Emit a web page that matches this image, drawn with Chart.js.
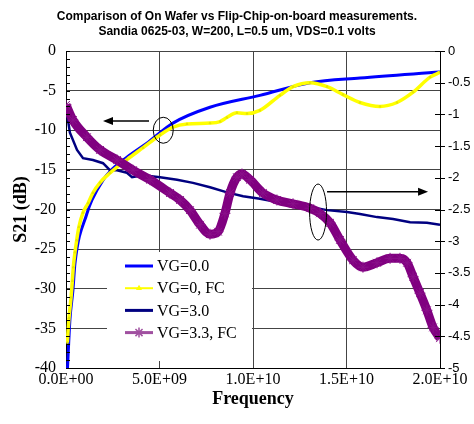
<!DOCTYPE html>
<html>
<head>
<meta charset="utf-8">
<script src="https://cdn.jsdelivr.net/npm/chart.js@4.4.1/dist/chart.umd.min.js"></script>
<style>
  body { margin: 0; background: #fff; }
  #wrap { width: 474px; height: 424px; }
</style>
</head>
<body>
<div id="wrap"><canvas id="s21Chart" width="474" height="424"></canvas></div>
<script>
// data (frequency in Hz)
const titleLines = ['Comparison of On Wafer vs Flip-Chip-on-board measurements.', 'Sandia 0625-03, W=200, L=0.5 um, VDS=0.1 volts'];
const seriesNames = ['VG=0.0', 'VG=0, FC', 'VG=3.0', 'VG=3.3, FC'];
const freqTicks = [0, 5e9, 1e10, 1.5e10, 2e10];

// VG=0.0 (left axis, dB)
const vg00Freq = [0.08e9, 0.21e9, 0.37e9, 0.48e9, 1.12e9, 1.39e9, 1.98e9, 2.35e9, 3.26e9, 4.4e9, 5.72e9, 7.7e9, 10.37e9, 13.05e9, 15.72e9, 20e9];
const vg00Db   = [-40, -33.9, -30.2, -26.8, -20.5, -18.8, -16.3, -15.2, -13.4, -11.5, -9.1, -7.1, -5.6, -4.0, -3.4, -2.65];

// VG=0, FC (left axis, dB)
const vg0fcFreq = [0.07e9, 0.16e9, 0.27e9, 0.34e9, 0.39e9, 0.48e9, 0.57e9, 0.69e9, 0.91e9, 1.18e9, 1.44e9, 1.82e9, 2.35e9, 3.26e9, 4.12e9, 5.03e9, 5.72e9, 6.47e9, 7.7e9, 8.24e9, 8.6e9, 9.14e9, 9.68e9, 10.37e9, 11.44e9, 12.14e9, 13.05e9, 13.96e9, 14.81e9, 15.72e9, 16.79e9, 17.7e9, 18.56e9, 19.47e9, 20e9];
const vg0fcDb   = [-36.8, -33.7, -31.1, -29.0, -27.3, -25.4, -23.9, -22.2, -20.4, -19.2, -17.9, -16.6, -15.4, -13.7, -12.2, -10.6, -9.6, -9.2, -9.1, -8.9, -8.4, -7.8, -7.9, -7.5, -5.6, -4.5, -4.0, -4.5, -5.5, -6.5, -7.0, -6.5, -5.2, -3.3, -2.7];

// VG=3.0 (right axis)
const vg30Freq = [0, 0.21e9, 0.59e9, 0.91e9, 1.44e9, 1.98e9, 2.35e9, 2.73e9, 3.26e9, 3.53e9, 4.12e9, 5.03e9, 5.94e9, 6.79e9, 7.7e9, 8.61e9, 9.47e9, 10.37e9, 12.14e9, 13.05e9, 13.96e9, 15.03e9, 15.72e9, 16.63e9, 17.49e9, 18.4e9, 19.3e9, 20e9];
const vg30Val  = [-0.88, -1.29, -1.56, -1.69, -1.72, -1.77, -1.88, -1.88, -1.92, -1.99, -1.96, -1.99, -2.03, -2.08, -2.15, -2.23, -2.29, -2.33, -2.43, -2.46, -2.51, -2.54, -2.57, -2.62, -2.65, -2.70, -2.71, -2.74];

// VG=3.3, FC (right axis)
const vg33Freq = [0, 0.37e9, 1.12e9, 1.82e9, 2.73e9, 3.58e9, 4.49e9, 5.56e9, 6.1e9, 6.63e9, 7.17e9, 7.7e9, 8.13e9, 8.5e9, 8.77e9, 9.14e9, 9.41e9, 9.84e9, 10.53e9, 11.28e9, 12.14e9, 13.05e9, 13.58e9, 14.12e9, 14.65e9, 15.35e9, 15.88e9, 16.63e9, 17.33e9, 17.86e9, 18.24e9, 18.56e9, 18.93e9, 19.3e9, 19.63e9, 20e9];
const vg33Val  = [-0.85, -1.09, -1.36, -1.56, -1.72, -1.88, -2.03, -2.24, -2.35, -2.51, -2.74, -2.89, -2.85, -2.56, -2.24, -1.99, -1.94, -2.03, -2.24, -2.35, -2.41, -2.48, -2.56, -2.71, -2.98, -3.30, -3.41, -3.34, -3.27, -3.27, -3.34, -3.56, -3.82, -4.09, -4.36, -4.53];

function pts(xs, ys) {
    return xs.map((x, i) => ({ x: x, y: ys[i] }));
}

// 0.0E+00 style labels
function sciLabel(v) {
    const parts = Number(v).toExponential(1).split('e');
    const sign = parts[1][0] === '-' ? '-' : '+';
    const digits = parts[1].replace(/[+-]/, '').padStart(2, '0');
    return parts[0] + 'E' + sign + digits;
}

const serif = '"Liberation Serif", "Times New Roman", serif';
const sans = '"Liberation Sans", Arial, sans-serif';

// ellipses + arrows pointing at the axis each pair belongs to
const notes = [
    { axis: 'y',  cx: 5.2e9,  cy: -10,   rx: 10,  ry: 13, ax1: 4.44e9,  ax2: 1.98e9,  ay: -8.83 },
    { axis: 'y2', cx: 13.48e9, cy: -2.54, rx: 8.5, ry: 28, ax1: 13.96e9, ax2: 19.36e9, ay: -2.22 }
];

const annotate = {
    id: 'annotate',
    afterDatasetsDraw(chart) {
        const ctx = chart.ctx;
        const xs = chart.scales.x;
        ctx.save();
        ctx.strokeStyle = '#000';
        ctx.fillStyle = '#000';
        notes.forEach(n => {
            const ys = chart.scales[n.axis];
            ctx.lineWidth = 1;
            ctx.beginPath();
            ctx.ellipse(xs.getPixelForValue(n.cx), ys.getPixelForValue(n.cy), n.rx, n.ry, 0, 0, Math.PI * 2);
            ctx.stroke();
            const x1 = xs.getPixelForValue(n.ax1), x2 = xs.getPixelForValue(n.ax2), y = ys.getPixelForValue(n.ay);
            const dir = x2 > x1 ? 1 : -1;
            ctx.lineWidth = 1.5;
            ctx.beginPath();
            ctx.moveTo(x1, y);
            ctx.lineTo(x2 - dir * 8, y);
            ctx.stroke();
            ctx.beginPath();
            ctx.moveTo(x2, y);
            ctx.lineTo(x2 - dir * 10, y - 4);
            ctx.lineTo(x2 - dir * 10, y + 4);
            ctx.closePath();
            ctx.fill();
        });

        // legend box inside the plot
        const a = chart.chartArea;
        const bx = a.left + 41, by = a.top + 201;
        ctx.fillStyle = '#fff';
        ctx.fillRect(bx, by, 145, 109);
        ctx.font = '16px ' + serif;
        ctx.textBaseline = 'middle';
        chart.data.datasets.forEach((ds, i) => {
            const y = by + 14 + i * 22.2;
            ctx.strokeStyle = ds.legendColor;
            ctx.lineWidth = ds.legendWidth;
            ctx.beginPath();
            ctx.moveTo(bx + 18, y);
            ctx.lineTo(bx + 46, y);
            ctx.stroke();
            if (ds.legendMarker) {
                ctx.lineWidth = 1.5;
                ctx.fillStyle = ds.legendColor;
                Chart.helpers.drawPoint(ctx, {
                    pointStyle: ds.legendMarker, radius: ds.legendMarker === 'star' ? 5 : 2,
                    borderWidth: 1.5, rotation: 0
                }, bx + 32, y);
            }
            ctx.fillStyle = '#000';
            ctx.fillText(ds.label, bx + 50, y + 1);
        });
        ctx.restore();
    },
    afterDraw(chart) {
        const ctx = chart.ctx;
        const a = chart.chartArea;
        const yl = chart.scales.y, yr = chart.scales.y2;
        ctx.save();
        ctx.strokeStyle = '#000';
        ctx.lineWidth = 1;
        ctx.beginPath();
        // minor ticks on the left axis, every 1 dB, inside
        for (let v = yl.min; v <= yl.max; v += 1) {
            const y = Math.round(yl.getPixelForValue(v)) + 0.5;
            ctx.moveTo(a.left, y);
            ctx.lineTo(a.left + 4, y);
        }
        // crossing ticks on the right axis
        for (let v = yr.min; v <= yr.max + 1e-9; v += 0.5) {
            const y = Math.round(yr.getPixelForValue(v)) + 0.5;
            ctx.moveTo(a.right - 5, y);
            ctx.lineTo(a.right + 5, y);
        }
        ctx.stroke();
        ctx.restore();
    }
};

const ctx = document.getElementById('s21Chart').getContext('2d');
const s21Chart = new Chart(ctx, {
    type: 'line',
    data: {
        datasets: [
            {
                label: seriesNames[0], data: pts(vg00Freq, vg00Db), yAxisID: 'y',
                borderColor: '#0000FF', borderWidth: 3, pointRadius: 0,
                cubicInterpolationMode: 'monotone', order: 4,
                legendColor: '#0000FF', legendWidth: 3
            },
            {
                label: seriesNames[1], data: pts(vg0fcFreq, vg0fcDb), yAxisID: 'y',
                borderColor: '#FFFF00', borderWidth: 3.5, pointRadius: 1.2, pointStyle: 'triangle',
                pointBackgroundColor: '#FFFF00', pointBorderColor: '#E0E000', pointBorderWidth: 0.8,
                cubicInterpolationMode: 'monotone', order: 2,
                legendColor: '#FFFF00', legendWidth: 2, legendMarker: 'triangle'
            },
            {
                label: seriesNames[2], data: pts(vg30Freq, vg30Val), yAxisID: 'y2',
                borderColor: '#000080', borderWidth: 2.5, pointRadius: 0, tension: 0, order: 3,
                legendColor: '#000080', legendWidth: 3
            },
            {
                label: seriesNames[3], data: pts(vg33Freq, vg33Val), yAxisID: 'y2',
                borderColor: '#800080', borderWidth: 9, pointRadius: 5.5, pointStyle: 'star',
                pointBorderColor: '#8A108A', pointBorderWidth: 1,
                cubicInterpolationMode: 'monotone', order: 1,
                legendColor: '#A050A0', legendWidth: 3, legendMarker: 'star'
            }
        ]
    },
    options: {
        responsive: false,
        animation: false,
        devicePixelRatio: 1,
        layout: { padding: 0 },
        plugins: {
            legend: { display: false },
            tooltip: { enabled: false },
            title: {
                display: true,
                text: titleLines,
                color: '#000',
                font: { family: sans, size: 12, weight: 'bold', lineHeight: 15 / 12 },
                padding: { top: 9.5, bottom: 11.5 }
            }
        },
        scales: {
            x: {
                type: 'linear', position: 'bottom', min: 0, max: 2e10,
                afterBuildTicks: s => { s.ticks = freqTicks.map(v => ({ value: v })); },
                ticks: { callback: v => sciLabel(v), color: '#000', font: { family: serif, size: 16 }, padding: 2, maxRotation: 0 },
                grid: { color: '#444', drawTicks: false },
                border: { color: '#000', width: 1 },
                title: { display: true, text: 'Frequency', color: '#000', font: { family: serif, size: 18, weight: 'bold' }, padding: { top: 0, bottom: 14 } },
                afterFit: s => { s.height = 56; }
            },
            y: {
                position: 'left', min: -40, max: 0,
                ticks: { stepSize: 5, callback: v => String(v), color: '#000', font: { family: serif, size: 16 }, padding: 10 },
                grid: { color: '#444', drawTicks: false },
                border: { color: '#000', width: 1 },
                title: { display: true, text: 'S21 (dB)', color: '#000', font: { family: serif, size: 18, weight: 'bold' }, padding: { top: 11, bottom: 0 } },
                afterFit: s => { s.width = 66; }
            },
            y2: {
                position: 'right', min: -5, max: 0,
                ticks: { stepSize: 0.5, callback: v => String(v), color: '#000', font: { family: sans, size: 13 }, padding: 8 },
                grid: { drawOnChartArea: false, drawTicks: false },
                border: { color: '#000', width: 1 },
                afterFit: s => { s.width = 34; }
            }
        }
    },
    plugins: [annotate]
});
</script>
</body>
</html>
